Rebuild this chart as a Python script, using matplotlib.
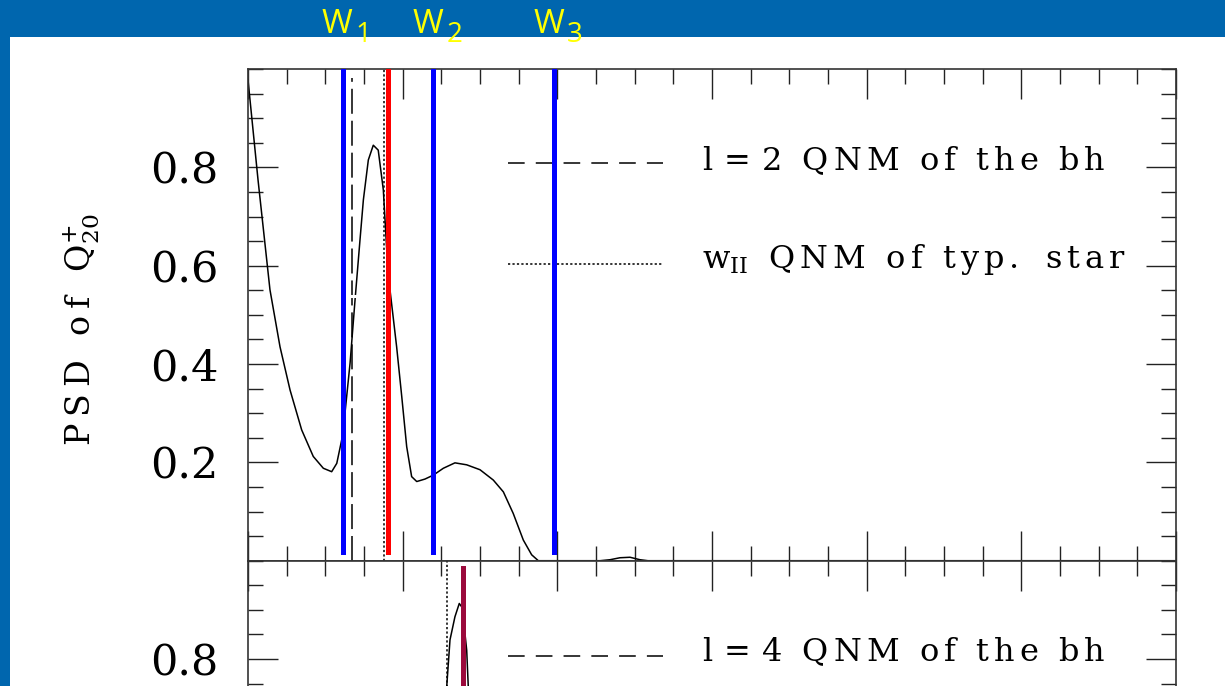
import matplotlib
matplotlib.use('Agg')
import matplotlib.pyplot as plt
from matplotlib.patches import Rectangle
from matplotlib.ticker import MultipleLocator, FixedLocator, FixedFormatter

plt.rcParams['font.family'] = 'DejaVu Serif'
plt.rcParams['lines.scale_dashes'] = False

# power spectral density of Q20+ (upper panel), frequency axis 0..6
freq_top = [0.000, 0.065, 0.142, 0.207, 0.272, 0.347, 0.422, 0.487, 0.541, 0.574,
            0.606, 0.627, 0.660, 0.692, 0.724, 0.746, 0.778, 0.810, 0.842, 0.875,
            0.897, 0.918, 0.961, 0.994, 1.026, 1.058, 1.091, 1.144, 1.198, 1.263,
            1.338, 1.414, 1.500, 1.586, 1.651, 1.715, 1.780, 1.834, 1.877, 2.276,
            2.341, 2.405, 2.470, 2.534, 2.586, 6.000]
psd_top = [0.978, 0.774, 0.551, 0.435, 0.347, 0.266, 0.212, 0.188, 0.181, 0.198,
           0.246, 0.300, 0.402, 0.530, 0.652, 0.734, 0.815, 0.845, 0.835, 0.754,
           0.632, 0.551, 0.435, 0.334, 0.232, 0.171, 0.161, 0.166, 0.174, 0.188,
           0.199, 0.195, 0.185, 0.164, 0.140, 0.096, 0.042, 0.012, 0.000, 0.000,
           0.002, 0.006, 0.007, 0.002, 0.000, 0.000]

# lower panel (l=4), only the top part of the peak
freq_bot = [1.277, 1.285, 1.306, 1.338, 1.366, 1.382, 1.397, 1.414, 1.424, 1.432]
psd_bot = [0.676, 0.745, 0.839, 0.886, 0.913, 0.906, 0.869, 0.818, 0.745, 0.676]

# mode frequencies
w_freqs = [0.612, 1.198, 1.980]
w_names = ['1', '2', '3']
bh_l2 = 0.670
wII_star = 0.881
peak_l2 = 0.905
bh_l4 = 1.285
peak_l4 = 1.390

ytick_vals = [0.2, 0.4, 0.6, 0.8]
ytick_text = ['0.2', '0.4', '0.6', '0.8']

W, H = 1225, 686


def tracked(s, gap=r'\,'):
    # spread the letters out a bit, like the old plotting font
    words = [gap.join(w) for w in s.split(' ')]
    return (gap + r'\ ' + gap).join(words)


def style(ax):
    ax.set_xlim(0, 6)
    ax.set_ylim(0, 1)
    ax.set_xticks([0, 1, 2, 3, 4, 5, 6])
    ax.xaxis.set_minor_locator(MultipleLocator(0.25))
    ax.yaxis.set_major_locator(FixedLocator(ytick_vals))
    ax.yaxis.set_major_formatter(FixedFormatter(ytick_text))
    ax.yaxis.set_minor_locator(MultipleLocator(0.05))
    ax.tick_params(which='both', direction='in', top=True, right=True,
                   labelbottom=False, color='#222222', width=1.0)
    ax.tick_params(which='major', length=21.5)
    ax.tick_params(which='minor', length=11)
    ax.tick_params(axis='y', which='major', pad=21, labelsize=31)
    for sp in ax.spines.values():
        sp.set_linewidth(1.2)
        sp.set_color('#333333')


fig = plt.figure(figsize=(W / 100, H / 100), dpi=100, facecolor='#0066AE')
fig.add_artist(Rectangle((10 / W, 0), 1, (H - 37) / H, transform=fig.transFigure,
                         facecolor='white', edgecolor='none', zorder=-5))

ax_top = fig.add_axes([248 / W, 125.3 / H, 928 / W, 491.7 / H])
ax_bot = fig.add_axes([248 / W, (125.3 - 491.7) / H, 928 / W, 491.7 / H])
style(ax_top)
style(ax_bot)
# lower panel runs off the bottom of the slide, only 0.8 shows
ax_bot.yaxis.set_major_formatter(FixedFormatter(['', '', '', ytick_text[-1]]))

# upper panel
ax_top.plot(freq_top, psd_top, color='black', lw=1.1, zorder=2)
ax_top.axvline(bh_l2, ymin=0, ymax=0.982, color='black', lw=1.1,
               dashes=(18, 5), zorder=2.5)
ax_top.axvline(wII_star, color='black', lw=1.1, dashes=(1.6, 1.6), zorder=2.5)
ax_top.plot([0.616, 0.897], [0.538, 0.538], color='white', lw=2.2, zorder=3)
for f in w_freqs:
    ax_top.axvline(f, ymin=0.018, ymax=1, color='#0000FF', lw=3.6, zorder=4)
ax_top.axvline(peak_l2, ymin=0.018, ymax=1, color='#FF0000', lw=3.6, zorder=4)

ax_top.plot([1.682, 2.684], [0.808, 0.808], color='black', lw=1.1, dashes=(12, 8))
ax_top.plot([1.682, 2.684], [0.603, 0.603], color='black', lw=1.1, dashes=(1.6, 1.6))
ax_top.text(2.935, 0.795, '$\\mathrm{' + tracked('l=2 QNM of the bh') + '}$',
            fontsize=23, math_fontfamily='dejavuserif', va='baseline')
ax_top.text(2.935, 0.595,
            '$\\mathrm{w}_{\\mathrm{II}}\\,\\ \\,\\mathrm{' + tracked('QNM of typ. star') + '}$',
            fontsize=23, math_fontfamily='dejavuserif', va='baseline')

# lower panel
ax_bot.plot(freq_bot, psd_bot, color='black', lw=1.1, zorder=2)
ax_bot.axvline(bh_l4, color='black', lw=1.1, dashes=(1.6, 1.6), zorder=2.5)
ax_bot.axvline(peak_l4, ymin=0, ymax=0.985, color='#9B0A3C', lw=3.6, zorder=4)
ax_bot.plot([1.682, 2.684], [0.807, 0.807], color='black', lw=1.1, dashes=(12, 8))
ax_bot.text(2.935, 0.795, '$\\mathrm{' + tracked('l=4 QNM of the bh') + '}$',
            fontsize=23, math_fontfamily='dejavuserif', va='baseline')

# y label
fig.text(102 / W, 356 / H,
         '$\\mathrm{' + tracked('PSD of Q', r'\:') + '}^{+}_{20}$',
         rotation=90, ha='right', va='center', fontsize=24,
         math_fontfamily='dejavuserif')

# W labels above the frame
for f, n in zip(w_freqs, w_names):
    px = 248 + f * 928 / 6
    fig.text((px - 21) / W, (H - 33) / H, 'W', family='Open Sans', fontsize=24,
             color='#FFFF00', ha='left', va='baseline')
    fig.text((px + 13) / W, (H - 42) / H, n, family='Open Sans', fontsize=20,
             color='#FFFF00', ha='left', va='baseline')

fig.savefig('out.png', dpi=100, facecolor=fig.get_facecolor())
